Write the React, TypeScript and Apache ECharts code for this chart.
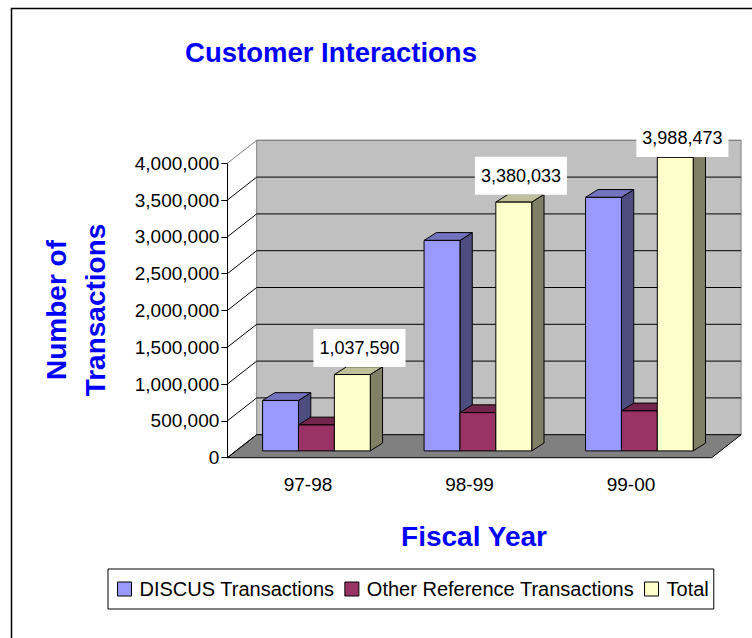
import React, { useEffect, useRef } from 'react';
import * as echarts from 'echarts';

const categories = ['97-98', '98-99', '99-00'];
const discusTransactions = [685000, 2860000, 3445000];
const otherReferenceTransactions = [352590, 520033, 543473];
const totalTransactions = [1037590, 3380033, 3988473];
const yTicks = [0, 500000, 1000000, 1500000, 2000000, 2500000, 3000000, 3500000, 4000000];
const seriesNames = ['DISCUS Transactions', 'Other Reference Transactions', 'Total'];
const titleText = 'Customer Interactions';
const yTitleText = 'Number of\nTransactions';
const xTitleText = 'Fiscal Year';

const FONT = '"Liberation Sans", Arial, Helvetica, sans-serif';
const WALL_D = [29.4, -23];
const BAR_FRONT = [8.4, -6.8];
const BAR_DEPTH = [12.3, -7.8];
const LABEL_TOP_LIMIT = 119;
const LABEL_BOX_H = 38;

const palettes = [
  { front: '#9999FF', top: '#7373BF', side: '#4D4D80' },
  { front: '#993366', top: '#73264D', side: '#4D1A33' },
  { front: '#FFFFCC', top: '#BFBF99', side: '#808066' },
];

const fmt = (v: number) => Number(v).toLocaleString('en-US');

function makeBarRenderer(si: number, withLabel: boolean) {
  return (params: any, api: any) => {
    const c = api.value(0);
    const v = api.value(1);
    const band = api.size([1, 0])[0];
    const bw = band / 4.5;
    const base = api.coord([c, 0]);
    const topP = api.coord([c, v]);
    const x0 = base[0] - 1.5 * bw + si * bw + BAR_FRONT[0];
    const x1 = x0 + bw;
    const yb = base[1] + BAR_FRONT[1];
    const yt = topP[1] + BAR_FRONT[1];
    const dx = BAR_DEPTH[0];
    const dy = BAR_DEPTH[1];
    const p = palettes[si];
    const children: any[] = [
      {
        type: 'polygon',
        shape: { points: [[x1, yt], [x1 + dx, yt + dy], [x1 + dx, yb + dy], [x1, yb]] },
        style: { fill: p.side, stroke: '#000', lineWidth: 1 },
      },
      {
        type: 'polygon',
        shape: { points: [[x0, yt], [x1, yt], [x1 + dx, yt + dy], [x0 + dx, yt + dy]] },
        style: { fill: p.top, stroke: '#000', lineWidth: 1 },
      },
      {
        type: 'rect',
        shape: { x: x0, y: yt, width: bw, height: yb - yt },
        style: { fill: p.front, stroke: '#000', lineWidth: 1 },
      },
    ];
    if (withLabel) {
      let bottom = yt - 7.5;
      if (bottom - LABEL_BOX_H < LABEL_TOP_LIMIT) bottom = LABEL_TOP_LIMIT + LABEL_BOX_H;
      children.push({
        type: 'text',
        z2: 10,
        style: {
          text: fmt(v),
          x: (x0 + x1) / 2 + dx / 2 + 1,
          y: bottom,
          align: 'center',
          verticalAlign: 'bottom',
          font: `18px ${FONT}`,
          lineHeight: 18,
          fill: '#000',
          backgroundColor: '#fff',
          padding: [10, 6],
        },
      });
    }
    return { type: 'group', children };
  };
}

const renderFrame = (params: any, api: any) => {
  const cs = params.coordSys;
  const v = api.value(1);
  const y = api.coord([0, v])[1];
  const left = cs.x;
  const right = cs.x + cs.width;
  const [dx, dy] = WALL_D;
  const isTop = v === yTicks[yTicks.length - 1];
  const children: any[] = [];
  if (params.dataIndex === 0) {
    const yMax = api.coord([0, yTicks[yTicks.length - 1]])[1];
    children.push({
      type: 'rect',
      shape: { x: left + dx, y: yMax + dy, width: cs.width, height: y - yMax },
      style: { fill: '#C0C0C0', stroke: '#808080', lineWidth: 1 },
    });
    children.push({
      type: 'polygon',
      shape: { points: [[left, y], [right, y], [right + dx, y + dy], [left + dx, y + dy]] },
      style: { fill: '#808080', stroke: '#000', lineWidth: 1 },
    });
  } else {
    children.push({
      type: 'line',
      shape: { x1: left + dx, y1: y + dy, x2: right + dx, y2: y + dy },
      style: { stroke: isTop ? '#808080' : '#000', lineWidth: 1 },
    });
  }
  children.push({
    type: 'line',
    shape: { x1: left, y1: y, x2: left + dx, y2: y + dy },
    style: { stroke: isTop ? '#808080' : '#000', lineWidth: 1 },
  });
  return { type: 'group', children };
};

export default function App() {
  const ref = useRef<HTMLDivElement>(null);
  useEffect(() => {
    if (!ref.current) return;
    const chart = echarts.init(ref.current, null, { renderer: 'svg' });
    const seriesData = [discusTransactions, otherReferenceTransactions, totalTransactions];
    const option: any = {
      animation: false,
      backgroundColor: '#fff',
      grid: { left: 227.3, top: 163.3, width: 484.4, height: 294.4 },
      xAxis: {
        type: 'category',
        data: categories,
        axisLine: { show: false },
        axisTick: { show: false },
        splitLine: { show: false },
        axisLabel: { fontSize: 19, fontFamily: FONT, color: '#000', margin: 17 },
      },
      yAxis: {
        type: 'value',
        min: 0,
        max: 4000000,
        interval: 500000,
        splitLine: { show: false },
        axisLine: { show: true, lineStyle: { color: '#000', width: 1 } },
        axisTick: { show: true, length: 6, lineStyle: { color: '#000' } },
        axisLabel: { fontSize: 19, fontFamily: FONT, color: '#000', margin: 8, formatter: (v: number) => fmt(v) },
      },
      legend: {
        data: seriesNames.map((n, i) => ({
          name: n,
          itemStyle: { color: palettes[i].front, borderColor: '#000', borderWidth: 1 },
        })),
        left: 108,
        top: 569,
        orient: 'horizontal',
        icon: 'rect',
        itemWidth: 14,
        itemHeight: 14,
        itemGap: 10,
        padding: [10, 5, 10, 9],
        borderColor: '#000',
        borderWidth: 1,
        borderRadius: 0,
        backgroundColor: '#fff',
        selectedMode: false,
        textStyle: { fontFamily: FONT, fontSize: 20, color: '#000', padding: [0, 0, 0, 3] },
      },
      graphic: [
        {
          type: 'rect',
          silent: true,
          shape: { x: 11.5, y: 8.5, width: 800, height: 700 },
          style: { fill: 'none', stroke: '#000', lineWidth: 1.5 },
        },
        {
          type: 'text',
          x: 331,
          y: 52,
          style: {
            text: titleText,
            align: 'center',
            verticalAlign: 'middle',
            font: `bold 27.5px ${FONT}`,
            fill: '#0000FF',
          },
        },
        {
          type: 'text',
          x: 76,
          y: 310,
          rotation: Math.PI / 2,
          style: {
            text: yTitleText,
            align: 'center',
            verticalAlign: 'middle',
            font: `bold 28px ${FONT}`,
            lineHeight: 39,
            fill: '#0000FF',
          },
        },
        {
          type: 'text',
          x: 474,
          y: 536,
          style: {
            text: xTitleText,
            align: 'center',
            verticalAlign: 'middle',
            font: `bold 28px ${FONT}`,
            fill: '#0000FF',
          },
        },
      ],
      series: [
        {
          type: 'custom',
          name: 'frame',
          z: 1,
          silent: true,
          renderItem: renderFrame,
          encode: { x: 0, y: 1 },
          data: yTicks.map((v) => [0, v]),
        },
        ...seriesNames.map((n, si) => ({
          type: 'custom',
          name: n,
          z: 2,
          itemStyle: { color: palettes[si].front, borderColor: '#000', borderWidth: 1 },
          renderItem: makeBarRenderer(si, si === 2),
          encode: { x: 0, y: 1 },
          data: categories.map((_, i) => [i, seriesData[si][i]]),
        })),
      ],
    };
    chart.setOption(option);
    return () => chart.dispose();
  }, []);
  return (
    <div
      ref={ref}
      style={{ position: 'absolute', left: 0, top: 0, width: 752, height: 638 }}
    />
  );
}
